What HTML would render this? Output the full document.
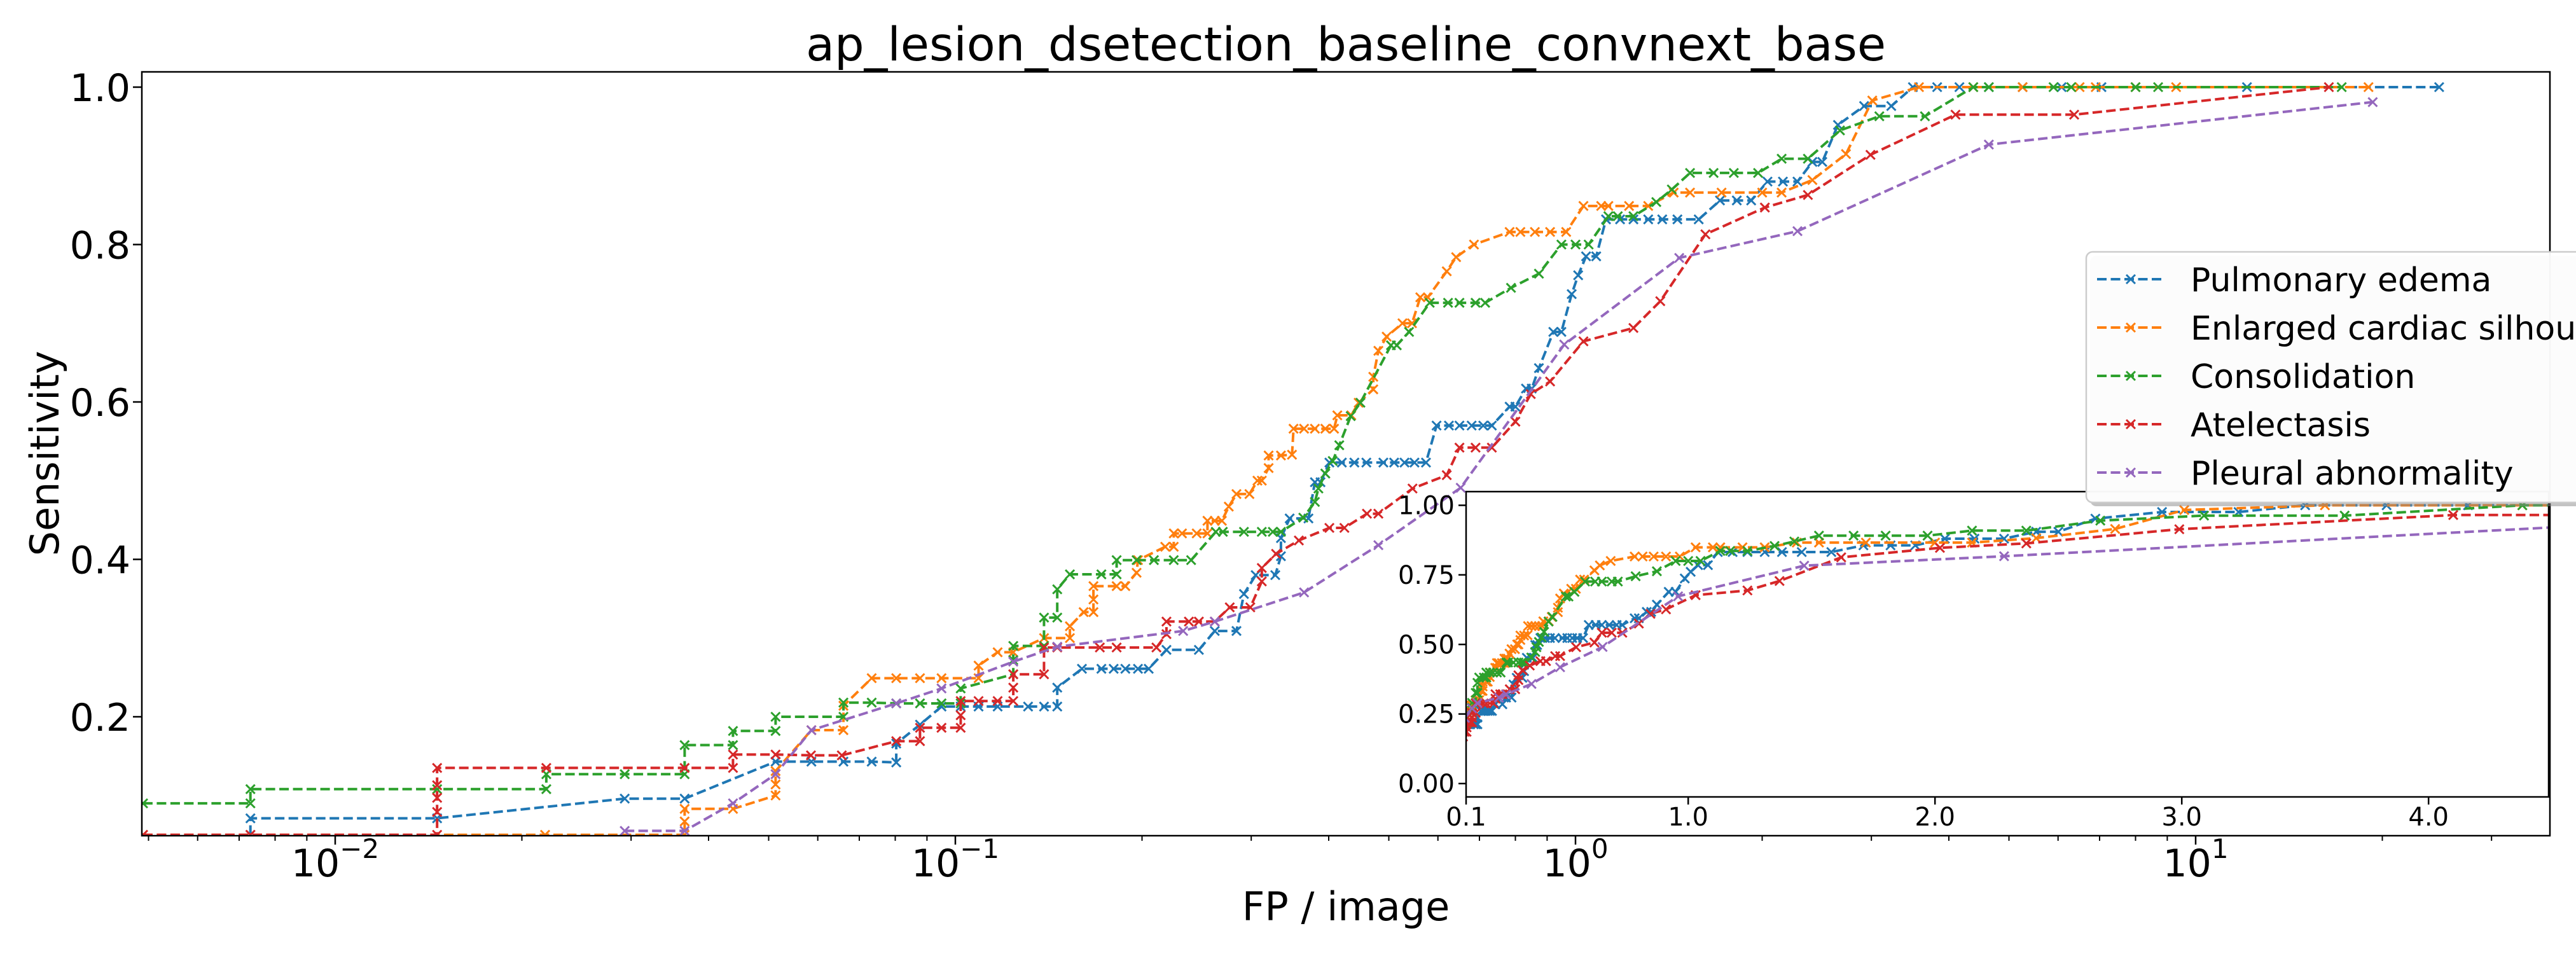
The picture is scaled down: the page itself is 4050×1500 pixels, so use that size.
<!DOCTYPE html>
<html><head><meta charset="utf-8"><style>
html,body{margin:0;padding:0;background:#fff}
svg{display:block}
text{font-family:"DejaVu Sans","Liberation Sans",sans-serif;fill:#000}
</style></head><body>
<svg id="chart" width="4050" height="1500" viewBox="0 0 4050 1500" xmlns="http://www.w3.org/2000/svg">
<rect x="0" y="0" width="4050" height="1500" fill="#fff"/>
<text x="2116" y="95" font-size="73.5" text-anchor="middle">ap_lesion_dsetection_baseline_convnext_base</text>
<text x="2116" y="1447" font-size="62" text-anchor="middle">FP / image</text>
<text transform="translate(92,713) rotate(-90)" font-size="62" text-anchor="middle">Sensitivity</text>
<defs>
<clipPath id="mainClip"><rect x="223" y="113" width="3786" height="1201"/></clipPath>
<clipPath id="insetClip"><rect x="2305" y="773" width="1702" height="480"/></clipPath>
</defs>
<g id="mainSeries" clip-path="url(#mainClip)"></g>
<g id="mainAxes"></g>
<rect x="2305" y="773" width="1702" height="480" fill="#fff"/>
<g id="insetSeries" clip-path="url(#insetClip)"></g>
<g id="insetAxes"></g>
<g id="legend">
<rect x="3286" y="402" width="800" height="394" rx="10" fill="#888" opacity="0.5"/>
<rect x="3280" y="396" width="800" height="394" rx="10" fill="#fff" fill-opacity="0.95" stroke="#cccccc" stroke-width="2.5"/>
</g>
</svg>
<script>
const seriesNames = ["Pulmonary edema","Enlarged cardiac silhouette","Consolidation","Atelectasis","Pleural abnormality"];
const seriesColors = ["#1f77b4","#ff7f0e","#2ca02c","#d62728","#9467bd"];
const edemaPts = [[0.0073,0.05],[0.0073,0.071],[0.0146,0.071],[0.0293,0.096],[0.0366,0.096],[0.0513,0.143],[0.0586,0.143],[0.066,0.143],[0.0733,0.143],[0.0803,0.142],[0.0803,0.166],[0.0877,0.190],[0.095,0.213],[0.102,0.213],[0.109,0.213],[0.117,0.213],[0.131,0.213],[0.139,0.213],[0.146,0.213],[0.146,0.237],[0.160,0.261],[0.172,0.261],[0.180,0.261],[0.188,0.261],[0.197,0.261],[0.205,0.261],[0.219,0.285],[0.247,0.285],[0.262,0.309],[0.284,0.309],[0.292,0.356],[0.305,0.380],[0.328,0.380],[0.335,0.404],[0.335,0.427],[0.346,0.452],[0.371,0.452],[0.380,0.498],[0.388,0.498],[0.401,0.523],[0.42,0.523],[0.44,0.523],[0.46,0.523],[0.49,0.523],[0.51,0.523],[0.53,0.523],[0.55,0.523],[0.574,0.523],[0.597,0.570],[0.625,0.570],[0.65,0.570],[0.68,0.570],[0.71,0.570],[0.733,0.570],[0.783,0.594],[0.80,0.594],[0.832,0.617],[0.85,0.617],[0.873,0.643],[0.921,0.689],[0.949,0.689],[0.986,0.737],[1.01,0.761],[1.04,0.785],[1.08,0.785],[1.12,0.832],[1.18,0.832],[1.24,0.832],[1.31,0.832],[1.38,0.832],[1.46,0.832],[1.58,0.832],[1.71,0.856],[1.82,0.856],[1.92,0.856],[2.04,0.880],[2.16,0.880],[2.28,0.880],[2.41,0.905],[2.50,0.905],[2.65,0.952],[2.92,0.976],[3.23,0.976],[3.50,1.0],[3.83,1.0],[4.16,1.0],[4.64,1.0],[5.26,1.0],[6.08,1.0],[7.05,1.0],[12.1,1.0],[24.7,1.0]];
const cardiacPts = [[0.0049,0.05],[0.0218,0.05],[0.0366,0.05],[0.0366,0.067],[0.0366,0.083],[0.0438,0.083],[0.0513,0.100],[0.0513,0.114],[0.0513,0.131],[0.0586,0.183],[0.066,0.183],[0.066,0.214],[0.0733,0.249],[0.0803,0.249],[0.0877,0.249],[0.095,0.249],[0.109,0.249],[0.109,0.265],[0.117,0.282],[0.124,0.282],[0.139,0.300],[0.153,0.300],[0.153,0.315],[0.161,0.333],[0.167,0.333],[0.167,0.349],[0.167,0.366],[0.182,0.366],[0.188,0.366],[0.196,0.383],[0.197,0.399],[0.218,0.416],[0.225,0.416],[0.225,0.433],[0.232,0.433],[0.245,0.433],[0.255,0.433],[0.255,0.449],[0.262,0.449],[0.269,0.449],[0.276,0.467],[0.284,0.483],[0.298,0.483],[0.307,0.500],[0.312,0.500],[0.320,0.516],[0.320,0.532],[0.335,0.532],[0.349,0.533],[0.351,0.566],[0.365,0.566],[0.38,0.566],[0.395,0.566],[0.408,0.566],[0.413,0.583],[0.435,0.583],[0.447,0.599],[0.472,0.616],[0.472,0.632],[0.481,0.665],[0.496,0.683],[0.526,0.700],[0.545,0.700],[0.562,0.733],[0.578,0.733],[0.620,0.766],[0.642,0.784],[0.686,0.800],[0.783,0.816],[0.815,0.816],[0.86,0.816],[0.91,0.816],[0.966,0.816],[1.03,0.849],[1.10,0.849],[1.13,0.849],[1.22,0.849],[1.31,0.849],[1.44,0.866],[1.53,0.866],[1.72,0.866],[2.0,0.866],[2.15,0.866],[2.41,0.882],[2.73,0.915],[3.01,0.983],[3.58,1.0],[4.38,1.0],[5.26,1.0],[6.5,1.0],[6.9,1.0],[8.0,1.0],[9.3,1.0],[19.0,1.0]];
const consolidationPts = [[0.0049,0.090],[0.0073,0.090],[0.0073,0.108],[0.0146,0.108],[0.0219,0.108],[0.0219,0.127],[0.0293,0.127],[0.0366,0.127],[0.0366,0.164],[0.0438,0.164],[0.0438,0.182],[0.0513,0.182],[0.0513,0.200],[0.066,0.200],[0.066,0.218],[0.0733,0.218],[0.0803,0.217],[0.0877,0.217],[0.095,0.217],[0.102,0.217],[0.102,0.236],[0.124,0.254],[0.124,0.272],[0.124,0.290],[0.139,0.290],[0.139,0.326],[0.146,0.326],[0.146,0.362],[0.153,0.381],[0.172,0.381],[0.182,0.381],[0.182,0.399],[0.196,0.399],[0.209,0.399],[0.225,0.399],[0.240,0.399],[0.263,0.435],[0.270,0.435],[0.292,0.435],[0.312,0.435],[0.325,0.435],[0.335,0.435],[0.364,0.453],[0.380,0.473],[0.385,0.490],[0.395,0.509],[0.406,0.525],[0.416,0.545],[0.434,0.582],[0.450,0.599],[0.504,0.672],[0.515,0.672],[0.539,0.689],[0.582,0.726],[0.623,0.726],[0.65,0.726],[0.69,0.726],[0.715,0.726],[0.787,0.745],[0.873,0.763],[0.949,0.800],[1.0,0.800],[1.05,0.800],[1.13,0.836],[1.17,0.836],[1.24,0.836],[1.35,0.854],[1.43,0.870],[1.53,0.891],[1.67,0.891],[1.80,0.891],[1.97,0.891],[2.15,0.909],[2.37,0.909],[2.67,0.945],[3.09,0.963],[3.66,0.963],[4.38,1.0],[4.64,1.0],[5.9,1.0],[6.3,1.0],[8.0,1.0],[8.7,1.0],[17.2,1.0]];
const atelectasisPts = [[0.0049,0.05],[0.0073,0.05],[0.0146,0.05],[0.0146,0.079],[0.0146,0.097],[0.0146,0.113],[0.0146,0.135],[0.0219,0.135],[0.0366,0.135],[0.0438,0.135],[0.0438,0.152],[0.0513,0.152],[0.0585,0.151],[0.0656,0.151],[0.0803,0.169],[0.0877,0.169],[0.0877,0.186],[0.095,0.186],[0.102,0.186],[0.102,0.202],[0.102,0.220],[0.109,0.220],[0.117,0.220],[0.124,0.220],[0.124,0.237],[0.124,0.254],[0.139,0.254],[0.139,0.288],[0.146,0.288],[0.171,0.288],[0.182,0.288],[0.211,0.288],[0.219,0.305],[0.219,0.321],[0.238,0.321],[0.247,0.321],[0.262,0.321],[0.277,0.339],[0.299,0.339],[0.312,0.372],[0.312,0.389],[0.329,0.407],[0.358,0.424],[0.401,0.440],[0.424,0.440],[0.461,0.458],[0.481,0.458],[0.546,0.490],[0.620,0.507],[0.650,0.542],[0.690,0.542],[0.733,0.542],[0.800,0.575],[0.847,0.610],[0.910,0.626],[1.03,0.677],[1.24,0.694],[1.37,0.728],[1.62,0.813],[2.02,0.847],[2.37,0.863],[2.99,0.914],[4.10,0.965],[6.37,0.965],[16.4,1.0]];
const pleuralPts = [[0.0293,0.055],[0.0366,0.055],[0.0438,0.090],[0.0513,0.127],[0.0586,0.183],[0.0803,0.217],[0.095,0.236],[0.124,0.270],[0.146,0.289],[0.233,0.309],[0.262,0.321],[0.365,0.358],[0.481,0.418],[0.653,0.491],[0.959,0.673],[1.47,0.783],[2.28,0.817],[4.64,0.927],[19.3,0.981]];
const mainYTicks = [0.2,0.4,0.6,0.8,1.0];
const mainYTickLabels = ["0.2","0.4","0.6","0.8","1.0"];
const mainXDecades = [-2,-1,0,1];
const insetXTicks = [0.1,1.0,2.0,3.0,4.0];
const insetXTickLabels = ["0.1","1.0","2.0","3.0","4.0"];
const insetYTicks = [0,0.25,0.5,0.75,1.0];
const insetYTickLabels = ["0.00","0.25","0.50","0.75","1.00"];

const NS = "http://www.w3.org/2000/svg";
const allSeries = [edemaPts,cardiacPts,consolidationPts,atelectasisPts,pleuralPts];
const M = {l:223,r:4009,t:113,b:1314};
const I = {l:2305,r:4007,t:773,b:1253};
function mx(v){return 527 + (Math.log10(v)+2)*975;}
function my(s){return 1374.5 - s*1237.5;}
function ix(v){return I.l + (v-0.1)*388;}
function iy(s){return 1232 - s*437.5;}
function mk(tag, attrs, parent){const e=document.createElementNS(NS,tag);for(const k in attrs)e.setAttribute(k,attrs[k]);parent.appendChild(e);return e;}
function xMarks(pts, fx, fy, color, parent, h){
  let d="";
  pts.forEach(p=>{const X=fx(p[0]),Y=fy(p[1]);d+=`M${X-h},${Y-h}L${X+h},${Y+h}M${X-h},${Y+h}L${X+h},${Y-h}`;});
  const m=mk("path",{d:d,stroke:color,"stroke-width":3,fill:"none"},parent);
  
  
}
function drawSeries(parent, fx, fy, prefix){
  allSeries.forEach((pts,i)=>{
    const g=mk("g",{},parent);
    
    
    const pl=mk("polyline",{points:pts.map(p=>fx(p[0]).toFixed(1)+","+fy(p[1]).toFixed(1)).join(" "),fill:"none",stroke:seriesColors[i],"stroke-width":4,"stroke-dasharray":"15,6.5"},g);
    
    
    xMarks(pts,fx,fy,seriesColors[i],g,7);
  });
}
drawSeries(document.getElementById("mainSeries"), mx, my, "main");
drawSeries(document.getElementById("insetSeries"), ix, iy, "inset");

const ma=document.getElementById("mainAxes");
const frame=mk("rect",{x:M.l,y:M.t,width:M.r-M.l,height:M.b-M.t,fill:"none",stroke:"#000","stroke-width":2.5},ma);


mainYTicks.forEach((v,i)=>{
  const Y=my(v);
  const t=mk("line",{x1:M.l-14,x2:M.l,y1:Y,y2:Y,stroke:"#000","stroke-width":2.5},ma);
  
  
  const tx=mk("text",{x:205,y:Y+22,"font-size":60,"text-anchor":"end"},ma);
  tx.textContent=mainYTickLabels[i];
  
  
});
for(let dcd=-3; dcd<=1; dcd++){
  for(let k=1;k<10;k++){
    const v=k*Math.pow(10,dcd);const X=mx(v);
    if(X<M.l-0.5||X>M.r+0.5)continue;
    const major=(k===1);
    const t=mk("line",{x1:X,x2:X,y1:M.b,y2:M.b+(major?14:8),stroke:"#000","stroke-width":major?2.5:2},ma);
    
    
  }
}
mainXDecades.forEach(e=>{
  const X=mx(Math.pow(10,e));
  const tx=mk("text",{x:X,y:1378,"font-size":60,"text-anchor":"middle"},ma);
  const a=mk("tspan",{},tx);a.textContent="10";
  const b=mk("tspan",{dy:-29,"font-size":42},tx);b.textContent=(e<0?"\u2212":"")+Math.abs(e);
  
  
});

const ia=document.getElementById("insetAxes");
const iframe=mk("rect",{x:I.l,y:I.t,width:I.r-I.l,height:I.b-I.t,fill:"none",stroke:"#000","stroke-width":2.5},ia);


insetXTicks.forEach((v,i)=>{
  const X=ix(v);
  const t=mk("line",{x1:X,x2:X,y1:I.b,y2:I.b+12,stroke:"#000","stroke-width":2.5},ia);
  
  
  const tx=mk("text",{x:X,y:1298,"font-size":40,"text-anchor":"middle"},ia);
  tx.textContent=insetXTickLabels[i];
  
  
});
insetYTicks.forEach((v,i)=>{
  const Y=iy(v);
  const t=mk("line",{x1:I.l-12,x2:I.l,y1:Y,y2:Y,stroke:"#000","stroke-width":2.5},ia);
  
  
  const tx=mk("text",{x:2287,y:Y+14,"font-size":40,"text-anchor":"end"},ia);
  tx.textContent=insetYTickLabels[i];
  
  
});

const lg=document.getElementById("legend");
seriesNames.forEach((n,i)=>{
  const Y=439+i*76;
  const g=mk("g",{},lg);
  
  
  mk("line",{x1:3297,x2:3404,y1:Y,y2:Y,stroke:seriesColors[i],"stroke-width":4,"stroke-dasharray":"15,6.5"},g);
  mk("path",{d:`M3343,${Y-7}L3357,${Y+7}M3343,${Y+7}L3357,${Y-7}`,stroke:seriesColors[i],"stroke-width":3},g);
  const tx=mk("text",{x:3444,y:Y+19,"font-size":52},g);
  tx.textContent=n;
  
  
});
</script>
</body></html>
